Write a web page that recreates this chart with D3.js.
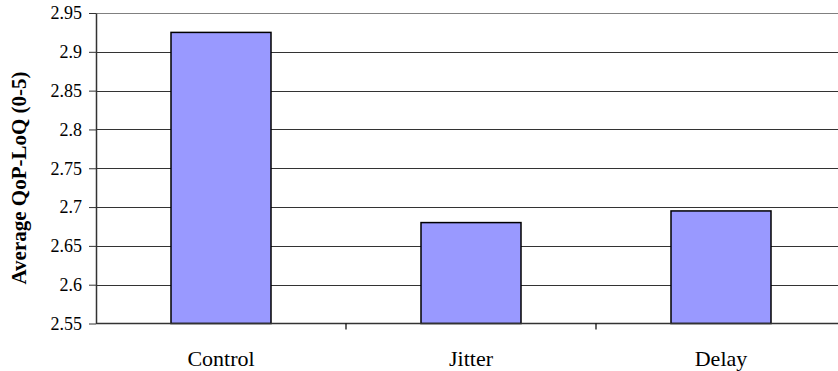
<!DOCTYPE html>
<html>
<head>
<meta charset="utf-8">
<script src="https://cdn.jsdelivr.net/npm/d3@7"></script>
<style>
  html, body { margin: 0; padding: 0; background: #fff; }
  #chart text { font-family: "Liberation Serif", serif !important; }
</style>
</head>
<body>
<svg id="chart" width="838" height="371"></svg>
<script>
// Average QoP-LoQ score per condition
const categories = ["Control", "Jitter", "Delay"];
const values = [2.925, 2.680, 2.695];
const yTicks = [2.55, 2.6, 2.65, 2.7, 2.75, 2.8, 2.85, 2.9, 2.95];
const yTickLabels = ["2.55", "2.6", "2.65", "2.7", "2.75", "2.8", "2.85", "2.9", "2.95"];

const svg = d3.select("#chart");
const plotLeft = 96, plotTop = 13, plotBottom = 323.5, plotRight = 846;

const x = d3.scaleBand().domain(categories).range([plotLeft, plotRight]).paddingInner(0.6).paddingOuter(0.3);
const y = d3.scaleLinear().domain([2.55, 2.95]).range([plotBottom, plotTop]);

// horizontal gridlines
svg.append("g").selectAll("line")
  .data(yTicks.slice(1))
  .join("line")
  .attr("x1", plotLeft).attr("x2", plotRight)
  .attr("y1", d => Math.round(y(d)) + 0.5).attr("y2", d => Math.round(y(d)) + 0.5)
  .attr("stroke", d => d === 2.95 ? "#808080" : "#333")
  .attr("stroke-width", 1);

// bars
svg.append("g").selectAll("rect")
  .data(categories)
  .join("rect")
  .attr("x", d => x(d))
  .attr("width", x.bandwidth())
  .attr("y", (d, i) => y(values[i]))
  .attr("height", (d, i) => y(2.55) - y(values[i]))
  .attr("fill", "#9999ff")
  .attr("stroke", "#000")
  .attr("stroke-width", 1.5);

// y axis
const yAxis = d3.axisLeft(y).tickValues(yTicks)
  .tickFormat((d, i) => yTickLabels[i]).tickSizeInner(7).tickSizeOuter(0).tickPadding(7);
const gy = svg.append("g").attr("transform", `translate(${plotLeft},0)`).call(yAxis)
  .attr("font-size", 18);
gy.select(".domain").attr("stroke", "#333").attr("stroke-width", 1.5);
gy.selectAll(".tick line").attr("stroke", "#333");
gy.selectAll(".tick text").attr("fill", "#000");

// x axis with ticks between categories
const gx = svg.append("g").attr("transform", `translate(0,${plotBottom})`)
  .attr("font-size", 22);
gx.append("line").attr("x1", plotLeft).attr("x2", plotRight).attr("y1", 0).attr("y2", 0)
  .attr("stroke", "#333").attr("stroke-width", 1.5);
gx.selectAll("line.sep")
  .data(categories.slice(1))
  .join("line").attr("class", "sep")
  .attr("x1", d => x(d) - x.step() * x.paddingInner() / 2)
  .attr("x2", d => x(d) - x.step() * x.paddingInner() / 2)
  .attr("y1", 0).attr("y2", 6)
  .attr("stroke", "#000").attr("stroke-width", 1.2);
gx.selectAll("text")
  .data(categories)
  .join("text")
  .attr("x", d => x(d) + x.bandwidth() / 2)
  .attr("y", 42)
  .attr("text-anchor", "middle")
  .attr("fill", "#000")
  .text(d => d);

// y axis title
svg.append("text")
  .attr("transform", `translate(26,178) rotate(-90)`)
  .attr("text-anchor", "middle")
  .attr("font-size", 21)
  .attr("font-weight", "bold")
  .attr("fill", "#000")
  .text("Average QoP-LoQ (0-5)");
</script>
</body>
</html>
